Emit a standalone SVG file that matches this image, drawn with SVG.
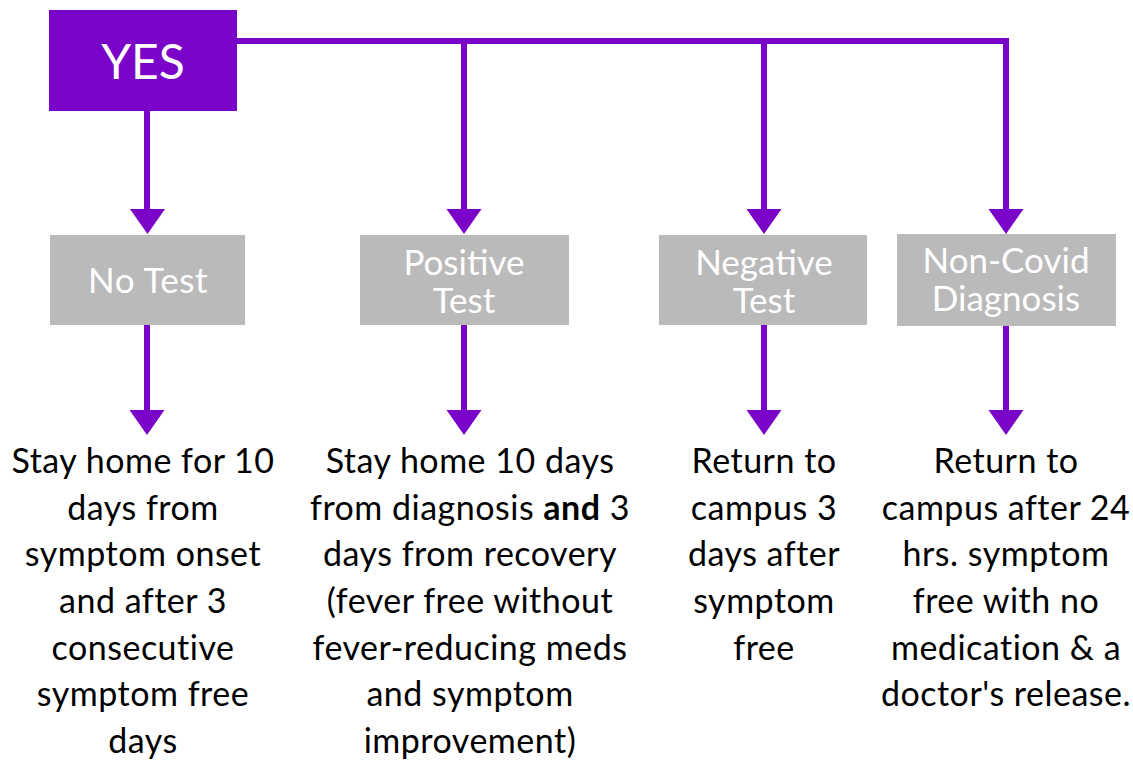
<svg xmlns="http://www.w3.org/2000/svg" width="1133" height="767" viewBox="0 0 1133 767">
<defs>
<style>
.yes{fill:#7A04C8}
.box{fill:#BABABA}
.wt{font-family:Lato,"Liberation Sans",sans-serif;fill:#fff;text-anchor:middle}
.bt{font-family:Lato,"Liberation Sans",sans-serif;fill:#000;text-anchor:middle;font-size:34px;letter-spacing:0.5px}
.ln{stroke:#7A04C8;stroke-width:6;fill:none}
.ah{fill:#7A04C8}
</style>
</defs>
<rect width="1133" height="767" fill="#fff"/>
<g id="connectors">
<path class="ln" d="M237 41H1009M147 111V212M464 41V212M764 41V212M1006 41V212"/>
<path class="ln" d="M147 325V412M464 325V412M764 325V412M1006 326V412"/>
<path class="ah" d="M130 209H165L147.5 234Z"/>
<path class="ah" d="M446.5 209H481.5L464 234Z"/>
<path class="ah" d="M746.5 209H781.5L764 234Z"/>
<path class="ah" d="M988.5 209H1023.5L1006 234Z"/>
<path class="ah" d="M129.5 410H164.5L147 435Z"/>
<path class="ah" d="M446.5 410H481.5L464 435Z"/>
<path class="ah" d="M746.5 410H781.5L764 435Z"/>
<path class="ah" d="M988.5 410H1023.5L1006 435Z"/>
</g>
<g id="yes">
<rect class="yes" x="49" y="10" width="188" height="101"/>
<text class="wt" x="143" y="79" font-size="48">YES</text>
</g>
<g id="no-test">
<rect class="box" x="50" y="235" width="195" height="90"/>
<text class="wt" x="148" y="293" font-size="35" letter-spacing="0.5">No Test</text>
</g>
<g id="positive-test">
<rect class="box" x="360" y="235" width="209" height="90"/>
<text class="wt" x="464" y="275" font-size="35">Positive</text>
<text class="wt" x="464" y="313" font-size="35">Test</text>
</g>
<g id="negative-test">
<rect class="box" x="659" y="235" width="208" height="90"/>
<text class="wt" x="764" y="275" font-size="35">Negative</text>
<text class="wt" x="764" y="313" font-size="35">Test</text>
</g>
<g id="non-covid">
<rect class="box" x="897" y="234" width="219" height="92"/>
<text class="wt" x="1006" y="273" font-size="35">Non-Covid</text>
<text class="wt" x="1006" y="311" font-size="35">Diagnosis</text>
</g>
<g id="no-test-result">
<text class="bt" x="143" y="473">Stay home for 10</text>
<text class="bt" x="143" y="520">days from</text>
<text class="bt" x="143" y="566">symptom onset</text>
<text class="bt" x="143" y="613">and after 3</text>
<text class="bt" x="143" y="660">consecutive</text>
<text class="bt" x="143" y="706">symptom free</text>
<text class="bt" x="143" y="753">days</text>
</g>
<g id="positive-result">
<text class="bt" x="470" y="473">Stay home 10 days</text>
<text class="bt" x="470" y="520">from diagnosis <tspan font-weight="bold">and</tspan> 3</text>
<text class="bt" x="470" y="566">days from recovery</text>
<text class="bt" x="470" y="613">(fever free without</text>
<text class="bt" x="470" y="660">fever-reducing meds</text>
<text class="bt" x="470" y="706">and symptom</text>
<text class="bt" x="470" y="753">improvement)</text>
</g>
<g id="negative-result">
<text class="bt" x="764" y="473">Return to</text>
<text class="bt" x="764" y="520">campus 3</text>
<text class="bt" x="764" y="566">days after</text>
<text class="bt" x="764" y="613">symptom</text>
<text class="bt" x="764" y="660">free</text>
</g>
<g id="non-covid-result">
<text class="bt" x="1006" y="473">Return to</text>
<text class="bt" x="1006" y="520">campus after 24</text>
<text class="bt" x="1006" y="566">hrs. symptom</text>
<text class="bt" x="1006" y="613">free with no</text>
<text class="bt" x="1006" y="660">medication &amp; a</text>
<text class="bt" x="1006" y="706">doctor's release.</text>
</g>
</svg>
